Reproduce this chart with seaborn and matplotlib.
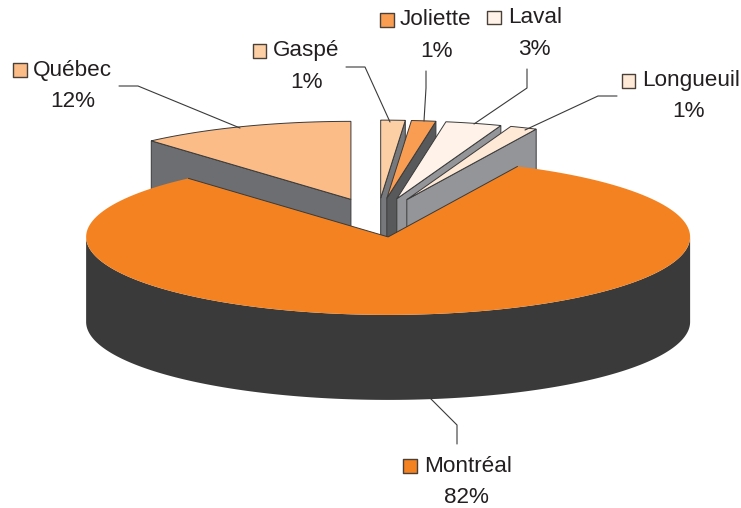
import numpy as np
import pandas as pd
import matplotlib
matplotlib.use('Agg')
import matplotlib.pyplot as plt
from matplotlib.patches import Polygon
import seaborn as sns

# clockwise from 12 o'clock, labels show the rounded share
regions = ['Gaspé', 'Joliette', 'Laval', 'Longueuil', 'Montréal', 'Québec']
shares = [1.3, 1.3, 3.0, 1.45, 81.5, 11.5]
colors = ['#fdcfa5', '#f99d53', '#fff3e9', '#fee8d6', '#f58220', '#fbbc87']
wall_colors = ['#77787b', '#58595b', '#939598', '#939598', '#3a3a3a', '#6d6e71']

# label layout, in pixels of the picture
key_x = [259.5, 387, 494, 628.5, 410, 20]
key_y = [51, 20, 17.5, 81, 466, 70]
name_x = [273, 400, 508, 642, 424, 33]
name_y = [56, 25, 23, 86, 472, 76]
pct_x = [306, 436, 534, 689, 466, 73]
pct_y = [88, 57, 55, 117, 503, 107]
leaders = [
    [(346, 67), (365, 67), (390, 122)],
    [(426, 71), (426, 88), (424, 121)],
    [(527, 69), (527, 88), (474, 124)],
    [(617, 96), (598, 96), (525, 130)],
    [(457, 444), (457, 425), (430, 398)],
    [(119, 86), (138, 86), (240, 128)],
]

# pie geometry
cx, cy = 377.6, 217.6
rx, ry = 302, 78
depth = 85
explode = 0.25

sns.set_theme(style='white')
plt.rcParams['font.family'] = ['Liberation Sans', 'DejaVu Sans']
ink = '#231f20'

fig = plt.figure(figsize=(7.41, 5.08), dpi=100)
ax = fig.add_axes([0, 0, 1, 1])
ax.set_xlim(0, 741)
ax.set_ylim(508, 0)
ax.axis('off')


def rim(t):
    return np.column_stack([rx * np.sin(t), -ry * np.cos(t)])


def drop(pts):
    return pts + np.array([0, depth])


edges = np.radians(np.cumsum([0] + shares) / sum(shares) * 360)
# Québec sits at the back left, then left to right, Montréal in front
order = [5, 0, 1, 2, 3, 4]
for z, i in enumerate(order):
    t0, t1 = edges[i], edges[i + 1]
    mid = (t0 + t1) / 2
    apex = np.array([cx, cy]) + explode * rim(np.array([mid]))[0]
    arc = apex + rim(np.linspace(t0, t1, 200))

    if regions[i] == 'Montréal':
        # only the front half of the rim can be seen
        front = apex + rim(np.radians(np.linspace(90, 270, 200)))
        wall = np.vstack([front, drop(front)[::-1]])
        ax.add_patch(Polygon(wall, closed=True, facecolor=wall_colors[i], edgecolor='none', zorder=2 + z))
        ax.add_patch(Polygon(np.vstack([apex, arc]), closed=True, facecolor=colors[i], edgecolor='none',
                             zorder=2 + z + 0.5))
        # the cut edges are outlined, the rim is not
        cut = np.vstack([arc[0], apex, arc[-1]])
        ax.plot(cut[:, 0], cut[:, 1], color='#3a3a3a', linewidth=0.7, zorder=2 + z + 0.6)
        continue
    if regions[i] == 'Québec':
        wall = np.vstack([apex, arc[0], drop(arc[0]), drop(apex)])
    else:
        wall = np.vstack([apex, arc[-1], drop(arc[-1]), drop(apex)])
    ax.add_patch(Polygon(wall, closed=True, facecolor=wall_colors[i], edgecolor='#3a3a3a',
                         linewidth=0.7, zorder=2 + z))
    ax.add_patch(Polygon(np.vstack([apex, arc]), closed=True, facecolor=colors[i],
                         edgecolor='#3a3a3a', linewidth=0.7, zorder=2 + z + 0.5))

for line in leaders:
    xs, ys = zip(*line)
    ax.plot(xs, ys, color='#3a3a3a', linewidth=0.8, zorder=10)

labels = pd.DataFrame({'region': regions, 'x': key_x, 'y': key_y})
sns.scatterplot(data=labels, x='x', y='y', hue='region', palette=colors, marker='s', s=100,
                edgecolor='#4a4038', linewidth=1, legend=False, ax=ax, zorder=11, clip_on=False)
ax.set_xlim(0, 741)
ax.set_ylim(508, 0)

for i, name in enumerate(regions):
    ax.text(name_x[i], name_y[i], name, fontsize=16.2, color=ink, ha='left', va='baseline', zorder=12)
    ax.text(pct_x[i], pct_y[i], f'{shares[i]:.0f}%', fontsize=16.2, color=ink, ha='center',
            va='baseline', zorder=12)

fig.savefig('out.png', dpi=100)
